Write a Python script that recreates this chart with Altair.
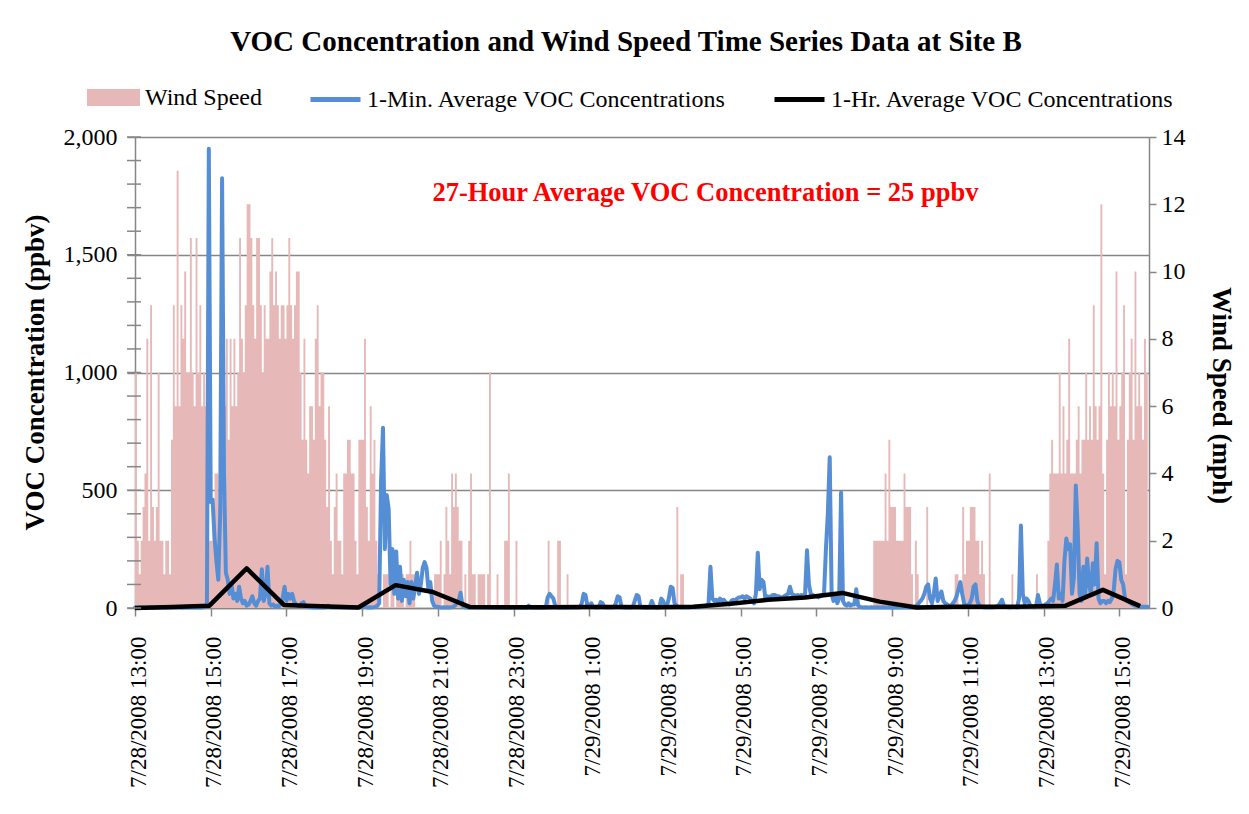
import altair as alt
import pandas as pd

TITLE = "VOC Concentration and Wind Speed Time Series Data at Site B"
NOTE = "27-Hour Average VOC Concentration = 25 ppbv"
WIND_LABEL = "Wind Speed"
MIN_LABEL = "1-Min. Average VOC Concentrations"
HR_LABEL = "1-Hr. Average VOC Concentrations"
Y_LEFT_TITLE = "VOC Concentration (ppbv)"
Y_RIGHT_TITLE = "Wind Speed (mph)"

START = "2008-07-28 13:00"
END = "2008-07-29 15:47"
STEP = "3min"

# wind speed (mph), one row per hour, 3-minute steps from 7/28 13:00
wind_mph = [
    7, 2, 1, 2, 3, 4, 8, 2, 9, 3, 2, 3, 7, 2, 2, 1, 2, 2, 1, 5,
    9, 6, 13, 6, 9, 8, 10, 7, 7, 11, 7, 6, 11, 7, 9, 6, 7, 6, 5, 2,
    2, 3, 4, 4, 3, 5, 6, 6, 8, 5, 8, 6, 8, 6, 7, 11, 8, 7, 9, 12,
    12, 11, 9, 8, 11, 11, 9, 7, 9, 8, 8, 10, 11, 9, 10, 9, 8, 9, 9, 8,
    9, 11, 9, 8, 9, 10, 10, 7, 5, 8, 5, 4, 6, 6, 5, 8, 9, 6, 7, 7,
    5, 3, 6, 2, 1, 3, 4, 2, 2, 1, 4, 4, 5, 5, 4, 4, 2, 1, 5, 5,
    5, 8, 3, 2, 6, 4, 5, 2, 1, 0, 0, 1, 1, 1, 0, 1, 1, 0, 1, 1,
    1, 1, 0, 1, 1, 2, 1, 1, 0, 0, 0, 0, 0, 0, 0, 0, 0, 0, 1, 1,
    1, 2, 0, 1, 3, 2, 1, 4, 3, 4, 3, 2, 2, 0, 1, 0, 2, 4, 1, 1,
    0, 1, 1, 1, 1, 0, 1, 7, 0, 0, 0, 1, 0, 0, 0, 2, 2, 4, 0, 0,
    0, 2, 0, 0, 0, 0, 0, 0, 0, 0, 0, 0, 0, 0, 0, 0, 0, 0, 2, 0,
    0, 0, 0, 2, 2, 0, 0, 0, 1, 0, 0, 0, 0, 0, 0, 0, 0, 0, 0, 0,
    0, 0, 0, 0, 0, 0, 0, 0, 0, 0, 0, 0, 0, 0, 0, 0, 0, 0, 0, 0,
    0, 0, 0, 0, 0, 0, 0, 0, 0, 0, 0, 0, 0, 0, 0, 0, 0, 0, 0, 0,
    0, 0, 0, 0, 0, 0, 3, 0, 1, 1, 0, 0, 0, 0, 0, 0, 0, 0, 0, 0,
    0, 0, 0, 0, 0, 0, 0, 0, 0, 0, 0, 0, 0, 0, 0, 0, 0, 0, 0, 0,
    0, 0, 0, 0, 0, 0, 0, 0, 0, 0, 0, 0, 0, 0, 0, 0, 0, 0, 0, 0,
    0, 0, 0, 0, 0, 0, 0, 0, 0, 0, 0, 0, 0, 0, 0, 0, 0, 0, 0, 0,
    0, 0, 0, 0, 0, 0, 0, 0, 0, 0, 0, 0, 0, 0, 0, 0, 0, 0, 0, 0,
    0, 0, 0, 0, 0, 0, 0, 0, 0, 0, 2, 2, 2, 2, 2, 2, 4, 2, 5, 3,
    3, 3, 2, 2, 2, 2, 4, 3, 3, 3, 1, 0, 2, 1, 0, 0, 0, 0, 3, 0,
    0, 0, 0, 0, 0, 0, 0, 0, 0, 0, 0, 0, 0, 1, 1, 0, 0, 3, 1, 2,
    2, 3, 3, 3, 2, 2, 1, 2, 1, 0, 0, 4, 0, 0, 0, 0, 0, 0, 0, 0,
    0, 0, 0, 1, 0, 0, 0, 0, 0, 0, 0, 0, 0, 0, 0, 0, 1, 0, 0, 0,
    0, 0, 2, 4, 5, 4, 4, 4, 7, 4, 6, 4, 5, 8, 4, 4, 4, 5, 6, 4,
    5, 5, 7, 5, 6, 5, 9, 6, 5, 6, 12, 4, 1, 5, 7, 6, 7, 6, 10, 5,
    6, 7, 9, 1, 5, 7, 8, 5, 10, 6, 7, 6, 5, 8, 7, 8,
]

# 1-minute VOC (ppbv), read at the same 3-minute steps
voc_1min = [
    2, 1, 2, 3, 2, 1, 2, 2, 3, 2, 1, 2, 2, 3, 2, 2, 1, 2, 2, 3,
    2, 2, 3, 2, 2, 1, 2, 3, 2, 2, 3, 2, 2, 3, 2, 2, 3, 5, 20, 1950,
    450, 460, 300, 200, 120, 400, 1825, 580, 150, 120, 60, 100, 40, 60, 30, 90, 40, 20, 30, 10,
    15, 30, 50, 20, 10, 30, 40, 165, 30, 60, 175, 20, 10, 15, 5, 10, 5, 20, 40, 90,
    30, 60, 40, 60, 30, 15, 10, 10, 20, 25, 10, 5, 3, 3, 2, 3, 2, 2, 3, 2,
    2, 3, 10, 3, 2, 2, 3, 2, 2, 3, 2, 2, 3, 2, 2, 3, 2, 2, 3, 5,
    3, 5, 3, 2, 3, 2, 3, 5, 10, 20, 540, 765, 250, 480, 420, 100, 250, 60, 240, 40,
    175, 30, 120, 50, 110, 20, 110, 40, 90, 150, 60, 100, 170, 195, 170, 80, 110, 30, 10, 5,
    5, 3, 2, 3, 2, 3, 2, 3, 5, 10, 20, 30, 65, 10, 3, 2, 3, 2, 2, 3,
    2, 3, 2, 2, 3, 2, 2, 3, 2, 2, 3, 2, 2, 3, 2, 2, 3, 2, 2, 3,
    2, 2, 3, 2, 2, 3, 2, 2, 10, 3, 2, 2, 3, 2, 2, 3, 2, 2, 45, 60,
    50, 40, 10, 3, 2, 3, 2, 2, 3, 2, 2, 3, 2, 2, 3, 2, 20, 60, 55, 10,
    5, 20, 5, 3, 2, 3, 25, 20, 3, 2, 3, 2, 2, 3, 20, 50, 45, 5, 3, 2,
    2, 3, 2, 5, 30, 55, 50, 5, 3, 2, 3, 2, 5, 30, 10, 3, 2, 5, 40, 30,
    5, 10, 40, 90, 85, 20, 10, 5, 3, 2, 3, 2, 3, 2, 3, 5, 3, 5, 3, 5,
    5, 5, 10, 20, 175, 40, 30, 35, 25, 40, 30, 35, 25, 20, 15, 30, 35, 30, 40, 45,
    45, 50, 40, 50, 45, 40, 30, 20, 60, 235, 80, 120, 110, 40, 50, 45, 50, 55, 55, 50,
    50, 45, 45, 50, 55, 60, 90, 60, 55, 50, 55, 50, 55, 50, 60, 245, 100, 60, 55, 50,
    50, 45, 50, 55, 60, 250, 400, 640, 60, 30, 50, 20, 40, 490, 30, 15, 10, 20, 10, 15,
    15, 80, 10, 5, 3, 2, 3, 2, 2, 3, 2, 2, 3, 2, 2, 3, 2, 2, 3, 2,
    2, 3, 2, 2, 3, 2, 2, 3, 2, 2, 3, 2, 5, 10, 20, 30, 40, 60, 90, 100,
    40, 20, 60, 125, 30, 50, 70, 30, 20, 15, 10, 10, 20, 30, 50, 80, 110, 60, 20, 10,
    10, 20, 40, 90, 100, 30, 10, 5, 3, 2, 3, 2, 3, 2, 3, 5, 10, 20, 35, 10,
    5, 3, 2, 3, 5, 3, 2, 40, 350, 60, 20, 40, 30, 10, 5, 3, 5, 55, 20, 10,
    10, 15, 20, 30, 40, 30, 100, 185, 40, 60, 30, 200, 295, 250, 270, 60, 130, 520, 340, 60,
    30, 175, 60, 210, 100, 60, 190, 100, 275, 40, 20, 30, 30, 20, 30, 25, 40, 70, 165, 200,
    195, 120, 100, 40, 30, 25, 20, 15, 10, 10, 5, 5, 5, 5, 5, 5,
]

# hourly averages: times where the points sit on the picture, and their values
hour_times = [
    "2008-07-28 13:00", "2008-07-28 13:59", "2008-07-28 14:58", "2008-07-28 15:57",
    "2008-07-28 16:56", "2008-07-28 17:55", "2008-07-28 18:54", "2008-07-28 19:53",
    "2008-07-28 20:52", "2008-07-28 21:51", "2008-07-28 22:50", "2008-07-28 23:49",
    "2008-07-29 00:48", "2008-07-29 01:47", "2008-07-29 02:46", "2008-07-29 03:45",
    "2008-07-29 04:44", "2008-07-29 05:43", "2008-07-29 06:42", "2008-07-29 07:41",
    "2008-07-29 08:40", "2008-07-29 09:39", "2008-07-29 10:38", "2008-07-29 11:37",
    "2008-07-29 12:36", "2008-07-29 13:35", "2008-07-29 14:34", "2008-07-29 15:33",
]
voc_1hr = [0, 4, 10, 168, 13, 7, 2, 97, 68, 4, 3, 3, 4, 4, 3, 5,
           18, 35, 45, 64, 27, 2, 5, 5, 6, 10, 77, 8]

tick_labels = [
    "7/28/2008 13:00", "7/28/2008 15:00", "7/28/2008 17:00", "7/28/2008 19:00",
    "7/28/2008 21:00", "7/28/2008 23:00", "7/29/2008 1:00", "7/29/2008 3:00",
    "7/29/2008 5:00", "7/29/2008 7:00", "7/29/2008 9:00", "7/29/2008 11:00",
    "7/29/2008 13:00", "7/29/2008 15:00",
]
voc_ticks = [0, 500, 1000, 1500, 2000]
voc_minor_ticks = [0, 100, 200, 300, 400, 500, 600, 700, 800, 900, 1000,
                   1100, 1200, 1300, 1400, 1500, 1600, 1700, 1800, 1900, 2000]
wind_ticks = [0, 2, 4, 6, 8, 10, 12, 14]

note_time = "2008-07-29 04:04"
note_value = 1762

PINK = "#E6B9B8"
BLUE = "#558ED5"
GRAY = "#868686"
FONT = "Liberation Serif"


def dt(ts):
    t = pd.Timestamp(ts)
    return alt.DateTime(year=t.year, month=t.month, date=t.day,
                        hours=t.hour, minutes=t.minute)


tick_values = [dt(pd.to_datetime(s, format="%m/%d/%Y %H:%M")) for s in tick_labels]

df_min = pd.DataFrame({
    "time": pd.date_range(START, periods=len(wind_mph), freq=STEP),
    "wind": wind_mph,
    "voc": voc_1min,
})
df_min["wseries"] = WIND_LABEL
df_min["mseries"] = MIN_LABEL

df_hr = pd.DataFrame({"time": pd.to_datetime(hour_times), "voc": voc_1hr})
df_hr["hseries"] = HR_LABEL

x_scale = alt.Scale(domain=[dt(START), dt(END)])
x_axis = alt.Axis(
    values=tick_values, format="%-m/%-d/%Y %-H:%M", labelAngle=270,
    labelFont=FONT, labelFontSize=23, labelColor="black", labelPadding=20,
    labelOffset=3, labelFlush=False, labelOverlap=False,
    domainColor=GRAY, domainWidth=1.5, tickColor=GRAY, tickWidth=1.5,
    tickSize=8, grid=False, title=None,
)
voc_scale = alt.Scale(domain=[0, 2000], nice=False)

wind = alt.Chart(df_min).mark_area(interpolate="step-after", opacity=1).encode(
    x=alt.X("time:T", scale=x_scale, axis=x_axis),
    y=alt.Y("wind:Q", scale=alt.Scale(domain=[0, 14], nice=False),
            axis=alt.Axis(orient="right", values=wind_ticks, title=Y_RIGHT_TITLE,
                          labelFont=FONT, labelFontSize=24, labelColor="black",
                          labelPadding=5, tickSize=7, tickColor=GRAY, tickWidth=1.5,
                          domainColor=GRAY, domainWidth=1.5, grid=False,
                          titleFont=FONT, titleFontSize=27, titleFontWeight="bold",
                          titleColor="black", titleAngle=90, titleX=71, titleY=258,
                          titleAlign="center", titleBaseline="middle")),
    color=alt.Color("wseries:N", scale=alt.Scale(domain=[WIND_LABEL], range=[PINK]),
                    legend=alt.Legend(orient="none", legendX=-48, legendY=-66,
                                      title=None, symbolType="M-1,-0.32H1V0.32H-1Z",
                                      symbolSize=2809, symbolStrokeWidth=0,
                                      labelFont=FONT, labelFontSize=24,
                                      labelColor="black", labelOffset=5, labelLimit=0)),
)

blue = alt.Chart(df_min).mark_line(strokeWidth=4, strokeJoin="round", strokeCap="round").encode(
    x=alt.X("time:T", scale=x_scale, axis=x_axis),
    y=alt.Y("voc:Q", scale=voc_scale,
            axis=alt.Axis(orient="left", values=voc_ticks, format=",.0f",
                          title=Y_LEFT_TITLE, labelFont=FONT, labelFontSize=24,
                          labelColor="black", labelPadding=10, tickSize=8,
                          tickColor=GRAY, tickWidth=1.5, domainColor=GRAY,
                          domainWidth=1.5, grid=True, gridColor=GRAY, gridWidth=1.5,
                          titleFont=FONT, titleFontSize=27, titleFontWeight="bold",
                          titleColor="black", titleAngle=270, titleX=-100, titleY=235,
                          titleAlign="center", titleBaseline="middle")),
    stroke=alt.Stroke("mseries:N", scale=alt.Scale(domain=[MIN_LABEL], range=[BLUE]),
                      legend=alt.Legend(orient="none", legendX=173, legendY=-65,
                                        title=None, symbolType="stroke", symbolSize=2500,
                                        symbolStrokeWidth=5, labelFont=FONT,
                                        labelFontSize=24, labelColor="black",
                                        labelOffset=4, labelLimit=0)),
)

black = alt.Chart(df_hr).mark_line(strokeWidth=4.5, strokeJoin="round").encode(
    x=alt.X("time:T", scale=x_scale),
    y=alt.Y("voc:Q", scale=voc_scale),
    stroke=alt.Stroke("hseries:N", scale=alt.Scale(domain=[HR_LABEL], range=["black"]),
                      legend=alt.Legend(orient="none", legendX=637, legendY=-65,
                                        title=None, symbolType="stroke", symbolSize=2500,
                                        symbolStrokeWidth=5, labelFont=FONT,
                                        labelFontSize=24, labelColor="black",
                                        labelOffset=4, labelLimit=0)),
)

minor = alt.Chart(pd.DataFrame({"v": voc_minor_ticks})).mark_rule(
    color=GRAY, strokeWidth=1.5).encode(
    y=alt.Y("v:Q", scale=voc_scale), x=alt.value(-8), x2=alt.value(6))

note = alt.Chart(pd.DataFrame({"t": [pd.Timestamp(note_time)], "v": [note_value],
                               "label": [NOTE]})).mark_text(
    font=FONT, fontSize=26.5, fontWeight="bold", color="#FF0000",
    align="center", baseline="middle").encode(
    x=alt.X("t:T", scale=x_scale), y=alt.Y("v:Q", scale=voc_scale), text="label:N")

voc_layer = alt.layer(blue, black, minor, note).resolve_scale(stroke="independent")

chart = alt.layer(wind, voc_layer).resolve_scale(
    y="independent", color="independent", stroke="independent"
).properties(
    width=1014, height=471,
    title=alt.TitleParams(TITLE, font=FONT, fontSize=29, fontWeight="bold",
                          color="black", anchor="middle", dx=-16, offset=14),
    autosize=alt.AutoSizeParams(type="none"),
    padding={"left": 127, "top": 129, "right": 92, "bottom": 198},
).configure_view(stroke=None).configure(background="white")

chart.save("out.html", embed_options={"renderer": "svg", "actions": False})
